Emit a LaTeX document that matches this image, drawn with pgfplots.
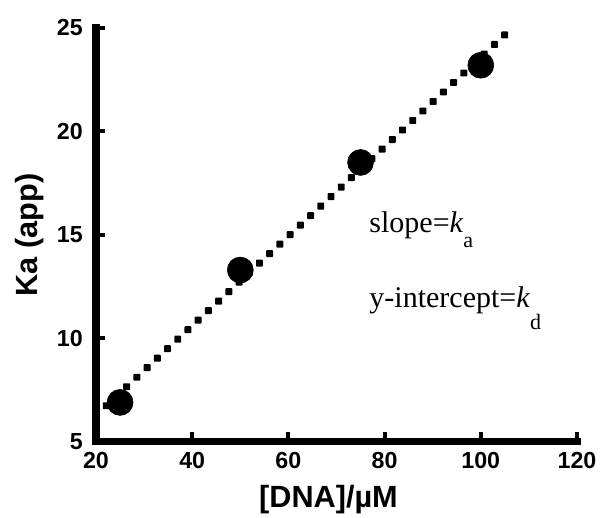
\documentclass[border=0pt]{standalone}
\usepackage{fontspec}
\setmainfont{Liberation Sans}
\newfontfamily\serif{Liberation Serif}
\usepackage{pgfplots}
\usepackage{pgfplotstable}
\pgfplotsset{compat=1.18}
\usetikzlibrary{decorations.markings}

% measured apparent association constant vs. DNA concentration
\pgfplotstableread{
x y
25 6.9
50 13.3
75 18.5
100 23.2
}\kadata

% least-squares line through the measurements
\pgfplotstableread{
x y
20 6.28
105 24.67
}\fitline

\begin{document}
\begin{tikzpicture}
\path[use as bounding box] (-72pt,-56.5pt) rectangle (378pt,331.3pt);
\begin{axis}[
  scale only axis,
  width=360.75pt, height=310.3pt,
  xmin=20, xmax=120, ymin=5, ymax=25,
  xtick={20,40,60,80,100,120},
  ytick={5,10,15,20,25},
  axis x line*=bottom, axis y line*=left,
  axis line style={line width=5.6pt, line cap=rect, black},
  tick align=inside,
  major tick length=7pt,
  major tick style={line width=3pt, black},
  /pgf/number format/assume math mode=true,
  tick label style={font=\fontsize{17.4}{18}\selectfont\bfseries},
  xticklabel style={anchor=north, inner sep=0pt, yshift=-7.7pt},
  yticklabel style={anchor=east, inner sep=0pt, xshift=-9.75pt},
  xlabel={[DNA]/µM},
  xlabel style={font=\fontsize{23}{23}\selectfont\bfseries, at={(axis description cs:0.5,0)}, anchor=base, inner sep=0pt, yshift=-49.7pt, xshift=-6pt},
  ylabel={Ka (app)},
  ylabel style={font=\fontsize{23}{23}\selectfont\bfseries, at={(axis description cs:-0.1684,0.5)}, anchor=north, inner sep=0pt},
  clip=false,
]
% fitted line drawn as a row of small squares
\addplot[draw=none, postaction={decorate},
  decoration={markings, mark=between positions 0 and 1 step 0.025 with {
    \pgftransformresetnontranslations
    \fill[black, rounded corners=0.6pt] (-2.6pt,-2.6pt) rectangle (2.6pt,2.6pt);}}]
  table {\fitline};
\addplot[only marks, mark=*, mark size=9.75pt, black] table {\kadata};
\node[anchor=base west, inner sep=0pt, font=\serif\fontsize{22.5}{23}\selectfont]
  at (axis cs:76.8,15.13) {slope=\textit{k}\raisebox{-11.25pt}{\fontsize{16.5}{17}\selectfont a}};
\node[anchor=base west, inner sep=0pt, font=\serif\fontsize{22.5}{23}\selectfont]
  at (axis cs:76.8,11.5) {y-intercept=\textit{k}\raisebox{-17pt}{\fontsize{16.5}{17}\selectfont d}};
\end{axis}
\end{tikzpicture}
\end{document}
